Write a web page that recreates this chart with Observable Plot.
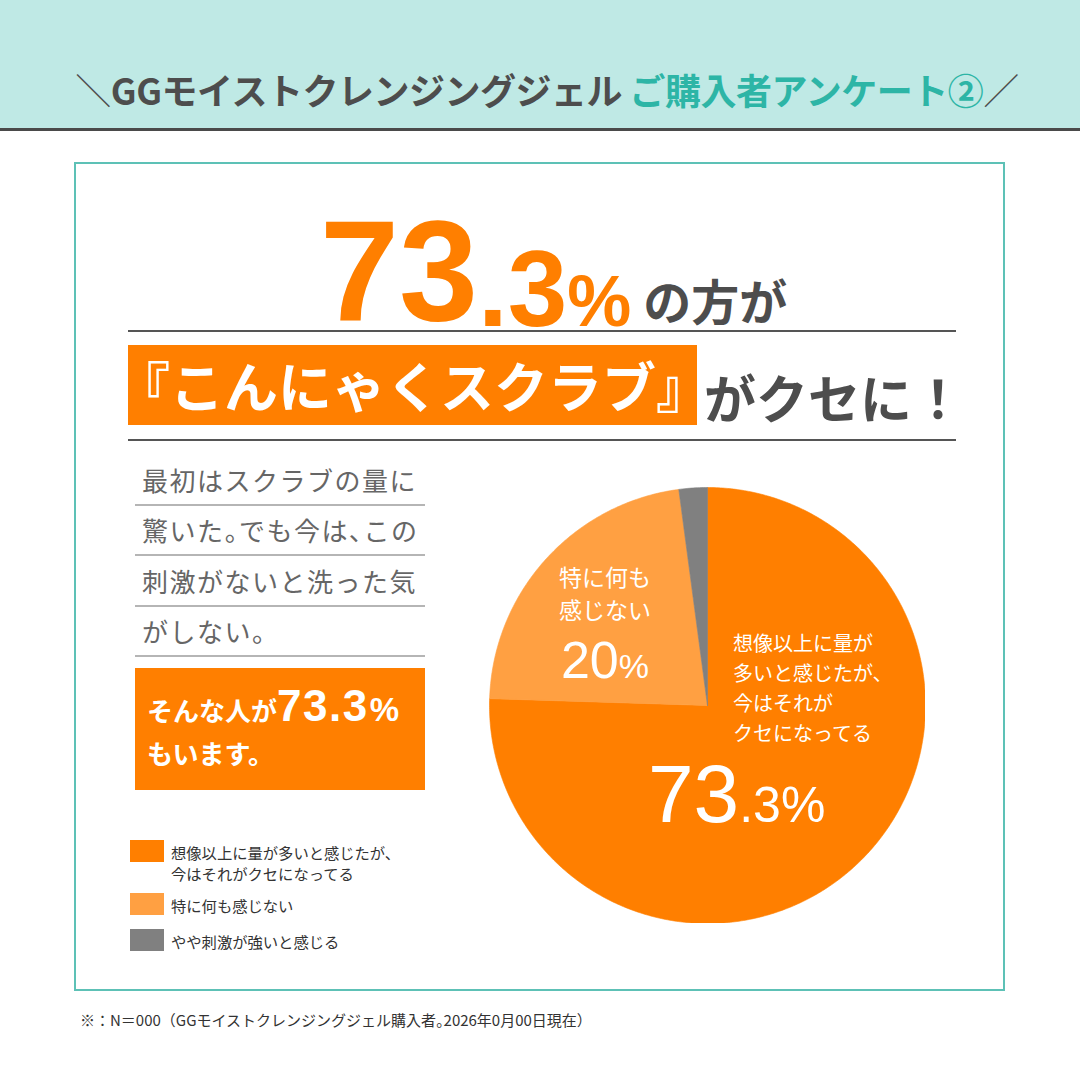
<!DOCTYPE html>
<html><head><meta charset="utf-8">
<script src="https://cdn.jsdelivr.net/npm/d3@7"></script>
<script src="https://cdn.jsdelivr.net/npm/@observablehq/plot@0.6"></script>
<style>
html,body{margin:0;padding:0;}
body{width:1080px;height:1080px;position:relative;background:#fff;font-family:"Noto Sans CJK JP","Noto Sans",sans-serif;overflow:hidden;}
.abs{position:absolute;white-space:nowrap;}
.num{font-family:"Liberation Sans",Arial,sans-serif;}
.pt{font-feature-settings:"palt";}
#header{left:0;top:0;width:1080px;height:128px;background:#bfe9e5;border-bottom:3px solid #4a4a4a;}
#title{left:0;top:67px;width:1094px;text-align:center;font-size:36px;font-weight:700;line-height:44px;color:#4d4d4d;letter-spacing:-0.5px;}
#title .teal{color:#2db5a6;}
#title .sl{font-weight:300;}
#frame{left:74px;top:162px;width:931px;height:829px;border:2px solid #5dc1b6;box-sizing:border-box;}
#head1{left:320px;top:187px;font-size:142px;line-height:142px;color:#ff7f00;font-weight:700;}
#head1 .small{position:relative;top:6px;}
#head1 .jp{font-family:"Noto Sans CJK JP",sans-serif;font-size:48px;color:#4d4d4d;margin-left:12px;}
.rule{left:128px;width:828px;height:0;border-top:2px solid #555;}
#box1{left:128px;top:345px;width:569px;height:80px;background:#ff7f00;}
#box1text{left:116px;top:352px;font-size:54px;line-height:66px;color:#fff;font-weight:700;}
#after1{left:704px;top:366px;font-size:52px;line-height:62px;color:#4d4d4d;font-weight:700;}
.crow{left:135px;width:290px;height:50px;border-bottom:2px solid #b5b5b5;box-sizing:border-box;font-size:26px;line-height:48px;color:#666;letter-spacing:1.5px;padding-left:7px;}
#box2{left:135px;top:668px;width:290px;height:122px;background:#ff7f00;}
#b2l1{left:147px;top:684px;font-size:44px;line-height:44px;color:#fff;font-weight:700;}
#b2l1 .jp{font-family:"Noto Sans CJK JP",sans-serif;font-size:26px;}
#b2l1 .n{letter-spacing:1.5px;}
#b2l1 .pc{font-size:33px;margin-left:1px;}
#b2l2{left:147px;top:739px;font-size:26px;line-height:28px;color:#fff;font-weight:700;}
.sw{left:130px;width:34px;height:22px;}
.lg{left:171px;font-size:15.3px;line-height:22px;color:#333;}
#foot{left:80px;top:1009px;font-size:15px;line-height:22px;color:#333;}
.pl{color:#fff;z-index:3;}
</style></head>
<body>
<div id="header" class="abs"></div>
<div id="title" class="abs"></div>
<div id="frame" class="abs"></div>
<div id="head1" class="abs"></div>
<div class="abs rule" style="top:330px"></div>
<div id="box1" class="abs"></div>
<div id="box1text" class="abs"></div>
<div id="after1" class="abs"></div>
<div class="abs rule" style="top:439px"></div>
<div id="comment"></div>
<div id="box2" class="abs"></div>
<div id="b2l1" class="abs num"></div>
<div id="b2l2" class="abs"></div>
<div id="legend"></div>
<div id="foot" class="abs"></div>
<div id="pielabels"></div>
<script>
// ---- data ----
const titleMain = "GGモイストクレンジングジェル";
const titleSub = "ご購入者アンケート②";
const headlinePct = ["73", ".3", "%"];
const headlineRest = "の方が";
const keyword = "『こんにゃくスクラブ』";
const keywordRest = "がクセに！";
const commentLines = ["最初はスクラブの量に", "驚いた。でも今は、この", "刺激がないと洗った気", "がしない。"];
const boxLine1 = ["そんな人が", "73.3", "%"];
const boxLine2 = "もいます。";
const categories = ["想像以上に量が多いと感じたが、今はそれがクセになってる", "特に何も感じない", "やや刺激が強いと感じる"];
const legendLines = [["想像以上に量が多いと感じたが、", "今はそれがクセになってる"], ["特に何も感じない"], ["やや刺激が強いと感じる"]];
const pieLabelLines = [["想像以上に量が", "多いと感じたが、", "今はそれが", "クセになってる"], ["特に何も", "感じない"]];
const pieLabelPct = [["73", ".3%"], ["20", "%"]];
// slice shares as drawn in the picture (angles)
const sliceShares = [75.5, 22.4, 2.1];
const sliceColors = ["#ff7f00", "#ffa042", "#808080"];
const footnote = "※：N＝000（GGモイストクレンジングジェル購入者。2026年0月00日現在）";

// ---- texts ----
const $ = id => document.getElementById(id);
const tight = t => t.replace(/([。、])(?=.)/g, '<span class="pt">$1</span>');
$("title").innerHTML = `<span class="sl">＼</span>${titleMain} <span class="teal">${titleSub}</span><span class="sl">／</span>`;
$("head1").innerHTML = `<span class="num">${headlinePct[0]}</span><span class="num small" style="font-size:107px">${headlinePct[1]}</span><span class="num small" style="font-size:72px">${headlinePct[2]}</span><span class="jp">${headlineRest}</span>`;
$("box1text").textContent = keyword;
$("after1").textContent = keywordRest;
$("comment").innerHTML = commentLines.map((t, i) => `<div class="abs crow" style="top:${456 + i * 50.3}px">${tight(t)}</div>`).join("");
$("b2l1").innerHTML = `<span class="jp">${boxLine1[0]}</span><span class="n">${boxLine1[1]}</span><span class="pc">${boxLine1[2]}</span>`;
$("b2l2").textContent = boxLine2;
const swTops = [840, 893, 929];
$("legend").innerHTML = legendLines.map((ls, i) =>
  `<div class="abs sw" style="top:${swTops[i]}px;background:${sliceColors[i]}"></div>` +
  ls.map((l, j) => `<div class="abs lg" style="top:${swTops[i] + 0.5 + j * 21}px">${l}</div>`).join("")).join("");
$("foot").innerHTML = tight(footnote);
$("pielabels").innerHTML =
  `<div class="abs pl" style="left:733px;top:628px;font-size:20px;line-height:30px">${pieLabelLines[0].join("<br>")}</div>` +
  `<div class="abs pl num" style="left:648px;top:753px;font-size:82px;line-height:82px">${pieLabelPct[0][0]}<span style="font-size:50px">${pieLabelPct[0][1]}</span></div>` +
  `<div class="abs pl" style="left:505px;top:560px;width:200px;text-align:center;font-size:23px;line-height:33px">${pieLabelLines[1].join("<br>")}</div>` +
  `<div class="abs pl num" style="left:505px;top:634px;width:200px;text-align:center;font-size:52px;line-height:52px">${pieLabelPct[1][0]}<span style="font-size:34px">${pieLabelPct[1][1]}</span></div>`;

// ---- pie with Plot ----
const arcs = d3.pie().sort(null).value(d => d.share)(
  categories.map((c, i) => ({name: c, share: sliceShares[i], color: sliceColors[i]})));
const polys = arcs.map(a => {
  const n = Math.max(2, Math.ceil((a.endAngle - a.startAngle) / 0.01));
  const pts = [{x: 0, y: 0}];
  for (let k = 0; k <= n; k++) {
    const t = a.startAngle + (a.endAngle - a.startAngle) * k / n;
    pts.push({x: Math.sin(t), y: Math.cos(t)});
  }
  pts.push({x: 0, y: 0});
  return {color: a.data.color, pts};
});
const pie = Plot.plot({
  width: 436, height: 436, margin: 0,
  x: {domain: [-1, 1], axis: null},
  y: {domain: [-1, 1], axis: null},
  style: {background: "transparent"},
  marks: polys.map(p => Plot.line(p.pts, {x: "x", y: "y", fill: p.color, stroke: p.color, strokeWidth: 0.6, curve: "linear"}))
});
pie.style.position = "absolute";
pie.style.left = "488.7px";
pie.style.top = "487px";
pie.style.zIndex = 2;
document.body.appendChild(pie);
</script>
</body></html>
